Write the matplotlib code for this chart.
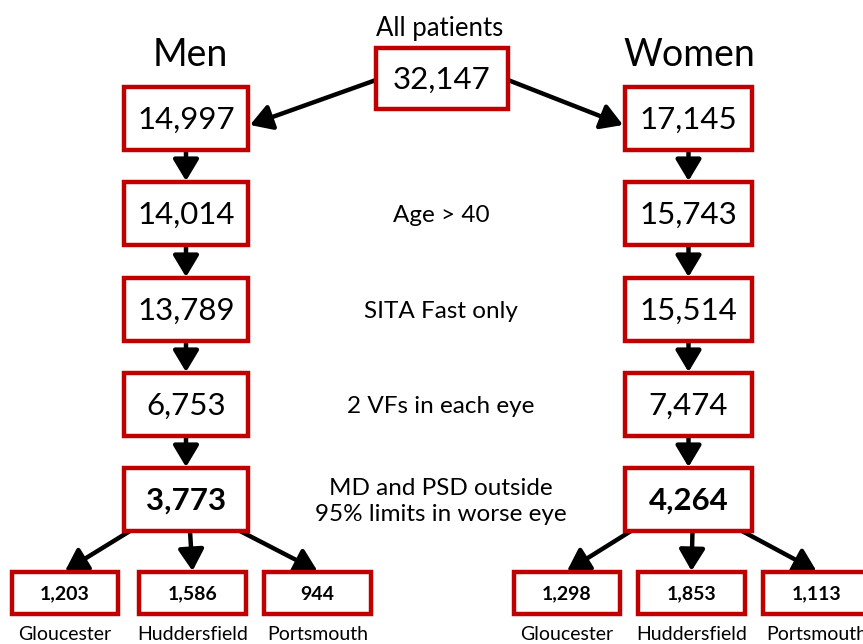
import matplotlib.pyplot as plt
from matplotlib.patches import Rectangle

plt.rcParams['font.family'] = ['Lato', 'DejaVu Sans']

total = 32147
steps = ["", "Age > 40", "SITA Fast only", "2 VFs in each eye",
         "MD and PSD outside\n95% limits in worse eye"]
men = [14997, 14014, 13789, 6753, 3773]
women = [17145, 15743, 15514, 7474, 4264]
sites = ["Gloucester", "Huddersfield", "Portsmouth"]
men_sites = [1203, 1586, 944]
women_sites = [1298, 1853, 1113]

RED = "#C00000"

fig = plt.figure(figsize=(8.63, 6.44), dpi=100)
ax = fig.add_axes([0, 0, 1, 1])
ax.set_xlim(0, 863)
ax.set_ylim(644, 0)
ax.axis("off")


def box(x0, y0, x1, y1, text, size, bold=False):
    ax.add_patch(Rectangle((x0, y0), x1 - x0, y1 - y0, facecolor="white",
                           edgecolor=RED, linewidth=3.2, zorder=2))
    ax.text((x0 + x1) / 2, (y0 + y1) / 2 + 1, text, ha="center", va="center",
            fontsize=size, fontweight="bold" if bold else "normal", zorder=3)


def arrow(p0, p1, head=26):
    ax.annotate("", xy=p1, xytext=p0,
                arrowprops=dict(arrowstyle="-|>,head_length=0.5,head_width=0.3",
                                color="black", lw=3.2,
                                mutation_scale=head, shrinkA=0, shrinkB=0),
                zorder=1)


# top
ax.text(440, 28, "All patients", ha="center", va="center", fontsize=18.5)
box(376, 48, 508, 109, f"{total:,}", 22.5)
ax.text(190, 55, "Men", ha="center", va="center", fontsize=27)
ax.text(689, 55, "Women", ha="center", va="center", fontsize=27)

row_y = [87, 182, 278, 373, 468]
h = 63
cols = [(124, 248, men), (625, 752, women)]
for x0, x1, vals in cols:
    xc = (x0 + x1) / 2
    for i, v in enumerate(vals):
        last = i == len(vals) - 1
        box(x0, row_y[i], x1, row_y[i] + h, f"{v:,}", 22.5, bold=last)
        if i > 0:
            arrow((xc, row_y[i - 1] + h), (xc, row_y[i] - 1))

for i, s in enumerate(steps):
    if s:
        ax.text(441, row_y[i] + h / 2 + 2, s, ha="center", va="center",
                fontsize=17.5, linespacing=1.35)

arrow((376, 80), (250, 125))
arrow((508, 80), (623, 125))

# sites
sub_x = [[(12, 118), (139, 246), (264, 371)],
         [(514, 620), (638, 745), (763, 870)]]
tops = [(130, 240), (631, 742)]
for c, vals in enumerate([men_sites, women_sites]):
    x0c, x1c, _ = cols[c]
    xc = (x0c + x1c) / 2
    starts = [tops[c][0], xc + 4, tops[c][1]]
    for j, v in enumerate(vals):
        sx0, sx1 = sub_x[c][j]
        box(sx0, 572, sx1, 614, f"{v:,}", 14, bold=True)
        sc = (sx0 + sx1) / 2
        arrow((starts[j], row_y[-1] + h), (sc, 571))
        ax.text(sc, 635, sites[j], ha="center", va="center", fontsize=14)

fig.savefig("out.png", dpi=100)
